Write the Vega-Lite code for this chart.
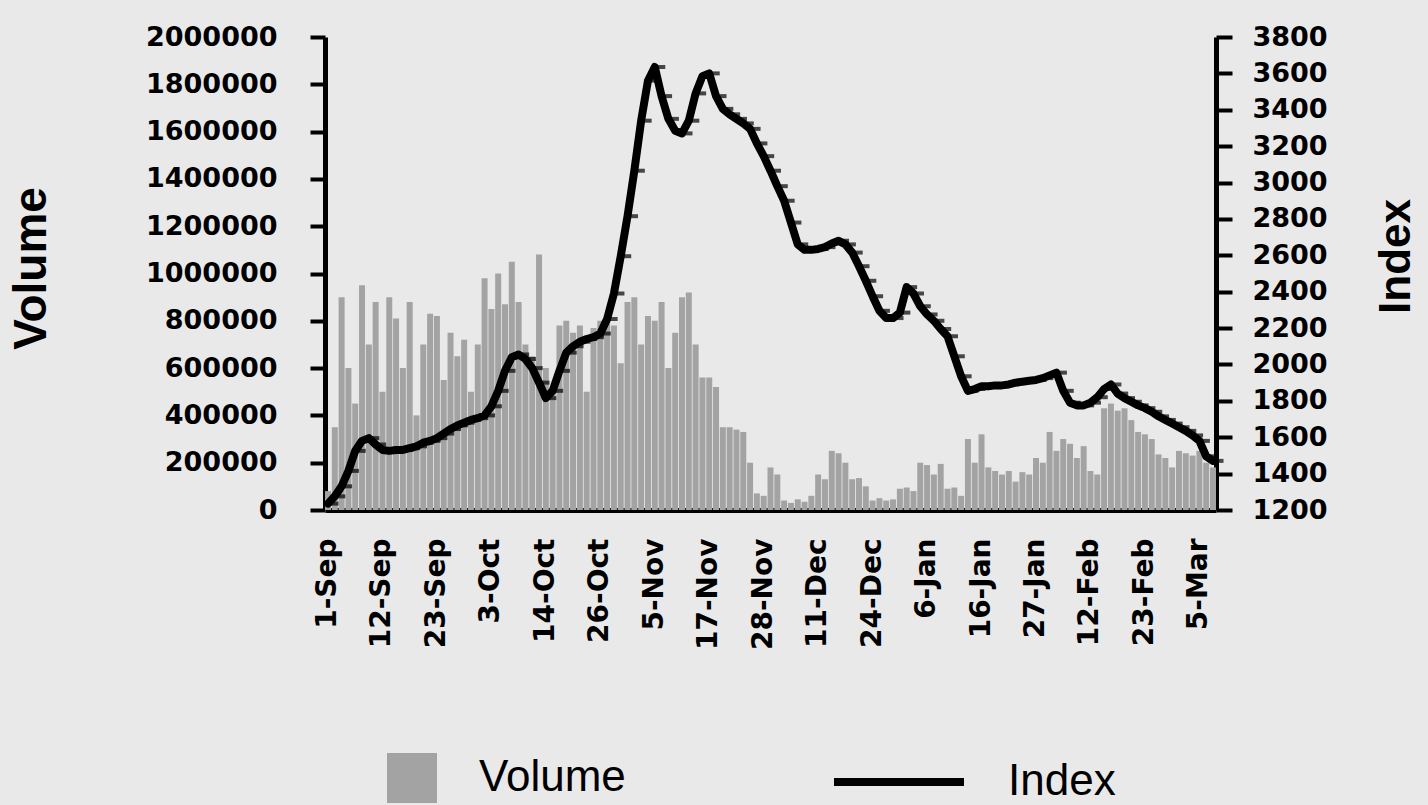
{
  "$schema": "https://vega.github.io/schema/vega-lite/v6.json",
  "width": 891,
  "height": 473,
  "autosize": {"type": "none"},
  "padding": {"left": 325, "top": 37, "right": 212, "bottom": 295},
  "background": "#e9e9e9",
  "config": {
    "view": {"stroke": null},
    "axis": {"domainColor": "black", "tickColor": "black", "labelColor": "black", "titleColor": "black", "grid": false}
  },
  "data": {"values": [
    {"date": "1-Sep", "volume": 80000, "index": 1235},
    {"date": "2-Sep", "volume": 350000, "index": 1275},
    {"date": "3-Sep", "volume": 900000, "index": 1330},
    {"date": "4-Sep", "volume": 600000, "index": 1415},
    {"date": "5-Sep", "volume": 450000, "index": 1525},
    {"date": "8-Sep", "volume": 950000, "index": 1580},
    {"date": "9-Sep", "volume": 700000, "index": 1595},
    {"date": "10-Sep", "volume": 880000, "index": 1560},
    {"date": "12-Sep", "volume": 500000, "index": 1530},
    {"date": "13-Sep", "volume": 900000, "index": 1525},
    {"date": "15-Sep", "volume": 810000, "index": 1530},
    {"date": "16-Sep", "volume": 600000, "index": 1530},
    {"date": "17-Sep", "volume": 880000, "index": 1540},
    {"date": "18-Sep", "volume": 400000, "index": 1550},
    {"date": "19-Sep", "volume": 700000, "index": 1570},
    {"date": "22-Sep", "volume": 830000, "index": 1580},
    {"date": "23-Sep", "volume": 820000, "index": 1595},
    {"date": "24-Sep", "volume": 550000, "index": 1620},
    {"date": "25-Sep", "volume": 750000, "index": 1645},
    {"date": "26-Sep", "volume": 650000, "index": 1665},
    {"date": "29-Sep", "volume": 720000, "index": 1680},
    {"date": "30-Sep", "volume": 500000, "index": 1695},
    {"date": "1-Oct", "volume": 700000, "index": 1705},
    {"date": "2-Oct", "volume": 980000, "index": 1720},
    {"date": "3-Oct", "volume": 850000, "index": 1770},
    {"date": "4-Oct", "volume": 1000000, "index": 1855},
    {"date": "6-Oct", "volume": 870000, "index": 1965},
    {"date": "7-Oct", "volume": 1050000, "index": 2040},
    {"date": "8-Oct", "volume": 880000, "index": 2055},
    {"date": "9-Oct", "volume": 700000, "index": 2030},
    {"date": "10-Oct", "volume": 650000, "index": 1980},
    {"date": "13-Oct", "volume": 1080000, "index": 1900},
    {"date": "14-Oct", "volume": 600000, "index": 1815},
    {"date": "15-Oct", "volume": 500000, "index": 1855},
    {"date": "16-Oct", "volume": 780000, "index": 1965},
    {"date": "17-Oct", "volume": 800000, "index": 2065},
    {"date": "20-Oct", "volume": 750000, "index": 2100},
    {"date": "21-Oct", "volume": 780000, "index": 2125},
    {"date": "22-Oct", "volume": 500000, "index": 2140},
    {"date": "24-Oct", "volume": 770000, "index": 2150},
    {"date": "26-Oct", "volume": 800000, "index": 2170},
    {"date": "27-Oct", "volume": 820000, "index": 2250},
    {"date": "28-Oct", "volume": 780000, "index": 2390},
    {"date": "29-Oct", "volume": 620000, "index": 2595},
    {"date": "30-Oct", "volume": 880000, "index": 2815},
    {"date": "2-Nov", "volume": 900000, "index": 3065},
    {"date": "3-Nov", "volume": 700000, "index": 3340},
    {"date": "4-Nov", "volume": 820000, "index": 3560},
    {"date": "5-Nov", "volume": 800000, "index": 3635},
    {"date": "6-Nov", "volume": 880000, "index": 3475},
    {"date": "7-Nov", "volume": 600000, "index": 3350},
    {"date": "10-Nov", "volume": 750000, "index": 3285},
    {"date": "11-Nov", "volume": 900000, "index": 3270},
    {"date": "12-Nov", "volume": 920000, "index": 3340},
    {"date": "13-Nov", "volume": 700000, "index": 3490},
    {"date": "14-Nov", "volume": 560000, "index": 3585},
    {"date": "17-Nov", "volume": 560000, "index": 3600},
    {"date": "18-Nov", "volume": 520000, "index": 3475},
    {"date": "19-Nov", "volume": 350000, "index": 3405},
    {"date": "20-Nov", "volume": 350000, "index": 3375},
    {"date": "21-Nov", "volume": 340000, "index": 3350},
    {"date": "24-Nov", "volume": 330000, "index": 3325},
    {"date": "25-Nov", "volume": 200000, "index": 3295},
    {"date": "26-Nov", "volume": 70000, "index": 3215},
    {"date": "28-Nov", "volume": 60000, "index": 3145},
    {"date": "1-Dec", "volume": 180000, "index": 3065},
    {"date": "2-Dec", "volume": 150000, "index": 2980},
    {"date": "3-Dec", "volume": 40000, "index": 2900},
    {"date": "4-Dec", "volume": 30000, "index": 2780},
    {"date": "5-Dec", "volume": 45000, "index": 2660},
    {"date": "8-Dec", "volume": 35000, "index": 2630},
    {"date": "10-Dec", "volume": 60000, "index": 2630},
    {"date": "11-Dec", "volume": 150000, "index": 2635},
    {"date": "12-Dec", "volume": 130000, "index": 2645},
    {"date": "15-Dec", "volume": 250000, "index": 2665},
    {"date": "16-Dec", "volume": 240000, "index": 2680},
    {"date": "17-Dec", "volume": 200000, "index": 2660},
    {"date": "18-Dec", "volume": 130000, "index": 2615},
    {"date": "19-Dec", "volume": 135000, "index": 2540},
    {"date": "22-Dec", "volume": 100000, "index": 2460},
    {"date": "24-Dec", "volume": 40000, "index": 2375},
    {"date": "26-Dec", "volume": 50000, "index": 2295},
    {"date": "29-Dec", "volume": 40000, "index": 2255},
    {"date": "30-Dec", "volume": 45000, "index": 2255},
    {"date": "31-Dec", "volume": 90000, "index": 2285},
    {"date": "2-Jan", "volume": 95000, "index": 2425},
    {"date": "3-Jan", "volume": 80000, "index": 2390},
    {"date": "5-Jan", "volume": 200000, "index": 2320},
    {"date": "6-Jan", "volume": 190000, "index": 2275},
    {"date": "7-Jan", "volume": 150000, "index": 2240},
    {"date": "8-Jan", "volume": 195000, "index": 2195},
    {"date": "9-Jan", "volume": 90000, "index": 2155},
    {"date": "10-Jan", "volume": 95000, "index": 2045},
    {"date": "12-Jan", "volume": 60000, "index": 1935},
    {"date": "13-Jan", "volume": 300000, "index": 1855},
    {"date": "14-Jan", "volume": 200000, "index": 1865},
    {"date": "16-Jan", "volume": 320000, "index": 1880},
    {"date": "19-Jan", "volume": 180000, "index": 1880},
    {"date": "20-Jan", "volume": 165000, "index": 1885},
    {"date": "21-Jan", "volume": 150000, "index": 1885},
    {"date": "22-Jan", "volume": 165000, "index": 1890},
    {"date": "23-Jan", "volume": 120000, "index": 1900},
    {"date": "24-Jan", "volume": 160000, "index": 1905},
    {"date": "26-Jan", "volume": 150000, "index": 1910},
    {"date": "27-Jan", "volume": 220000, "index": 1915},
    {"date": "28-Jan", "volume": 200000, "index": 1925},
    {"date": "29-Jan", "volume": 330000, "index": 1940},
    {"date": "30-Jan", "volume": 250000, "index": 1955},
    {"date": "2-Feb", "volume": 300000, "index": 1855},
    {"date": "3-Feb", "volume": 280000, "index": 1790},
    {"date": "4-Feb", "volume": 220000, "index": 1775},
    {"date": "9-Feb", "volume": 270000, "index": 1775},
    {"date": "12-Feb", "volume": 165000, "index": 1790},
    {"date": "13-Feb", "volume": 150000, "index": 1820},
    {"date": "14-Feb", "volume": 430000, "index": 1865},
    {"date": "16-Feb", "volume": 450000, "index": 1890},
    {"date": "17-Feb", "volume": 420000, "index": 1840},
    {"date": "18-Feb", "volume": 430000, "index": 1815},
    {"date": "19-Feb", "volume": 380000, "index": 1795},
    {"date": "20-Feb", "volume": 330000, "index": 1775},
    {"date": "23-Feb", "volume": 320000, "index": 1760},
    {"date": "24-Feb", "volume": 300000, "index": 1740},
    {"date": "25-Feb", "volume": 235000, "index": 1715},
    {"date": "26-Feb", "volume": 220000, "index": 1695},
    {"date": "27-Feb", "volume": 180000, "index": 1675},
    {"date": "1-Mar", "volume": 250000, "index": 1655},
    {"date": "2-Mar", "volume": 240000, "index": 1635},
    {"date": "3-Mar", "volume": 230000, "index": 1610},
    {"date": "5-Mar", "volume": 250000, "index": 1580},
    {"date": "6-Mar", "volume": 200000, "index": 1495},
    {"date": "7-Mar", "volume": 180000, "index": 1470}
  ]},
  "encoding": {
    "x": {
      "field": "date", "type": "ordinal", "sort": null,
      "scale": {"paddingInner": 0.12, "paddingOuter": 0},
      "axis": {
        "title": null,
        "values": ["1-Sep", "12-Sep", "23-Sep", "3-Oct", "14-Oct", "26-Oct", "5-Nov", "17-Nov", "28-Nov", "11-Dec", "24-Dec", "6-Jan", "16-Jan", "27-Jan", "12-Feb", "23-Feb", "5-Mar"],
        "labelAngle": 270, "labelFont": "DejaVu Sans", "labelFontSize": 28, "labelFontWeight": "bold",
        "labelPadding": 28, "ticks": false, "domainWidth": 5, "labelOverlap": false
      }
    }
  },
  "layer": [
    {
      "mark": {"type": "bar"},
      "encoding": {
        "y": {
          "field": "volume", "type": "quantitative",
          "scale": {"domain": [0, 2000000], "nice": false},
          "axis": {
            "title": "Volume", "titleFont": "Liberation Sans", "titleFontSize": 46, "titleFontWeight": "bold",
            "titleAngle": 270, "titleX": -316, "titleY": 231, "titleAlign": "center", "titleBaseline": "top",
            "values": [0, 200000, 400000, 600000, 800000, 1000000, 1200000, 1400000, 1600000, 1800000, 2000000],
            "format": "d", "labelFont": "DejaVu Sans", "labelFontSize": 27, "labelFontWeight": "bold",
            "labelPadding": 33, "tickSize": 15, "tickWidth": 4, "domainWidth": 5, "labelOverlap": false
          }
        },
        "fill": {
          "datum": "Volume", "type": "nominal",
          "scale": {"range": ["#a3a3a3"]},
          "legend": {
            "orient": "none", "legendX": 62, "legendY": 716, "title": null,
            "symbolType": "square", "symbolSize": 2500, "symbolStrokeWidth": 0,
            "labelFont": "Liberation Sans", "labelFontSize": 44, "labelOffset": 42, "labelLimit": 500, "labelColor": "black"
          }
        }
      }
    },
    {
      "encoding": {
        "y": {
          "field": "index", "type": "quantitative",
          "scale": {"domain": [1200, 3800], "nice": false, "zero": false},
          "axis": {
            "orient": "right",
            "title": "Index", "titleFont": "Liberation Sans", "titleFontSize": 44, "titleFontWeight": "bold",
            "titleAngle": 270, "titleX": 158, "titleY": 219, "titleAlign": "center", "titleBaseline": "top",
            "values": [1200, 1400, 1600, 1800, 2000, 2200, 2400, 2600, 2800, 3000, 3200, 3400, 3600, 3800],
            "format": "d", "labelFont": "DejaVu Sans", "labelFontSize": 27, "labelFontWeight": "bold",
            "labelPadding": 20, "tickSize": 16, "tickWidth": 4, "domainWidth": 5, "labelOverlap": false
          }
        }
      },
      "layer": [
        {
          "mark": {"type": "line", "strokeWidth": 8, "strokeJoin": "round", "strokeCap": "round"},
          "encoding": {
            "stroke": {
              "datum": "Index", "type": "nominal",
              "scale": {"range": ["#000000"]},
              "legend": {
                "orient": "none", "legendX": 505, "legendY": 676, "title": null,
                "symbolType": "stroke", "symbolSize": 16900, "symbolStrokeWidth": 8,
                "labelFont": "Liberation Sans", "labelFontSize": 44, "labelOffset": 40, "labelLimit": 500, "labelColor": "black"
              }
            }
          }
        },
        {
          "mark": {"type": "tick", "orient": "horizontal", "size": 13, "thickness": 4, "color": "black", "xOffset": 4}
        }
      ]
    }
  ],
  "resolve": {"scale": {"y": "independent"}}
}
